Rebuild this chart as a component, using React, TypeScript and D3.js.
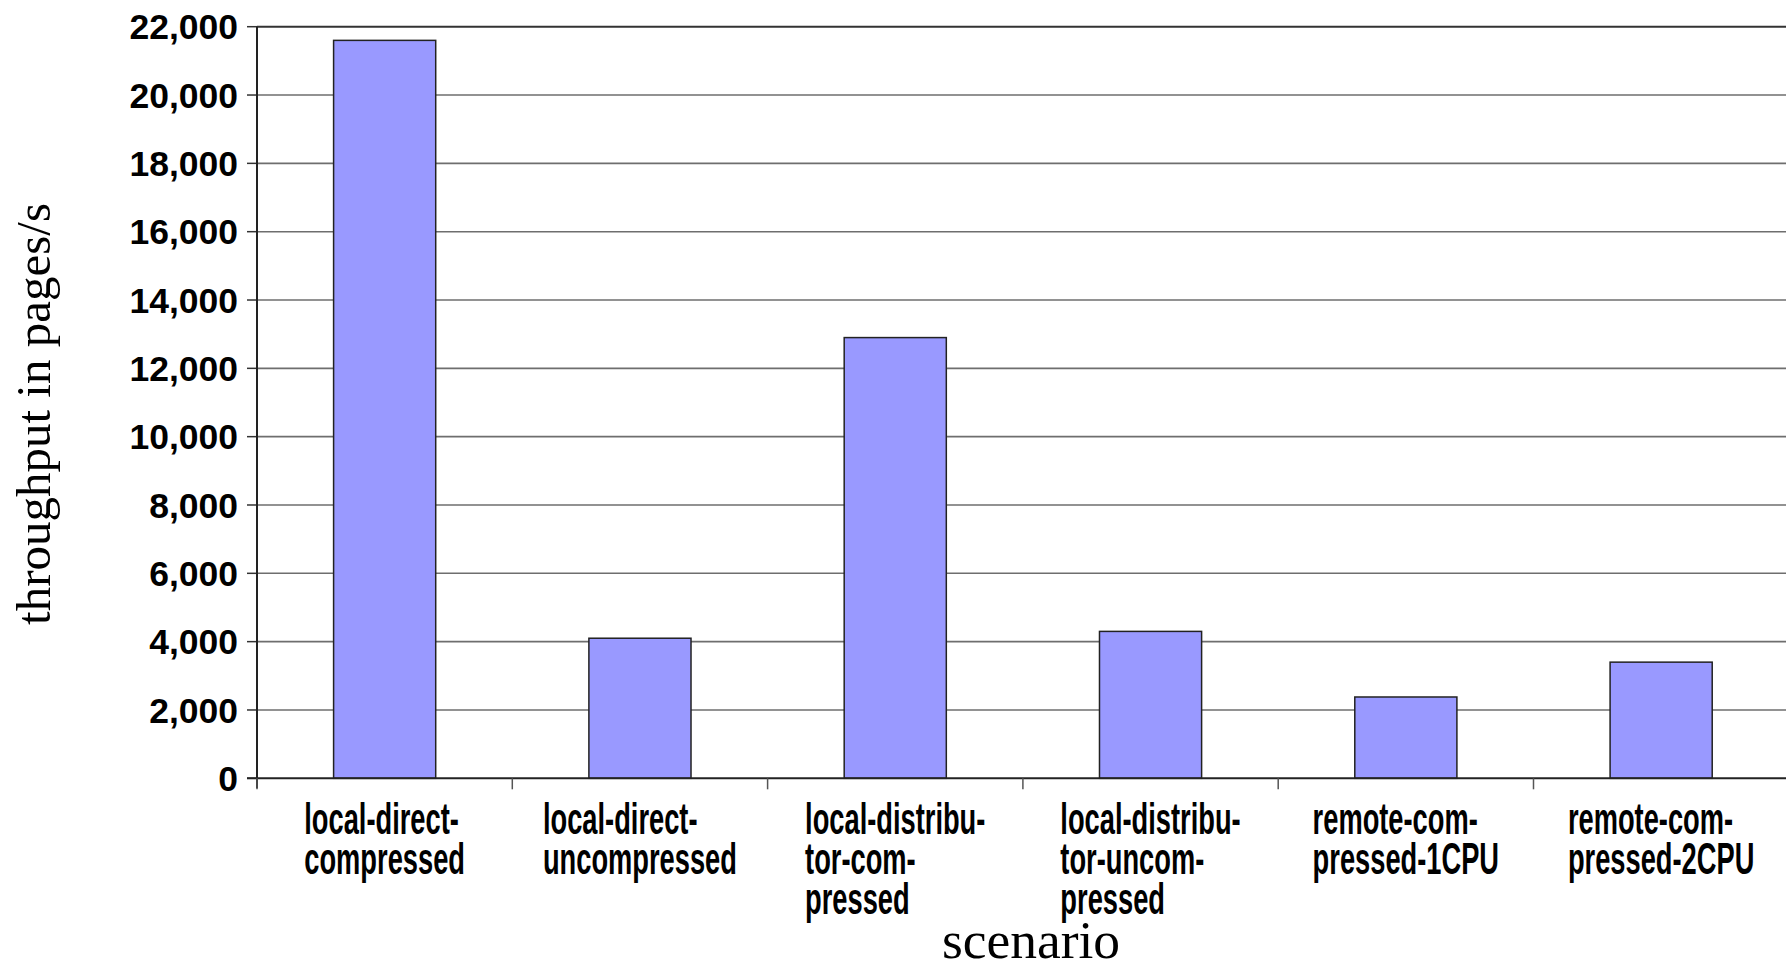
import React, { useEffect, useRef } from "react";
import * as d3 from "d3";

// Throughput per scenario (pages/s)
const categories = [
  "local-direct-compressed",
  "local-direct-uncompressed",
  "local-distributor-compressed",
  "local-distributor-uncompressed",
  "remote-compressed-1CPU",
  "remote-compressed-2CPU",
];
// Wrapped category label lines, as printed under each bar
const categoryLines = [
  ["local-direct-", "compressed"],
  ["local-direct-", "uncompressed"],
  ["local-distribu-", "tor-com-", "pressed"],
  ["local-distribu-", "tor-uncom-", "pressed"],
  ["remote-com-", "pressed-1CPU"],
  ["remote-com-", "pressed-2CPU"],
];
const throughput = [21600, 4100, 12900, 4300, 2380, 3400];
const yTicks = [0, 2000, 4000, 6000, 8000, 10000, 12000, 14000, 16000, 18000, 20000, 22000];
const yTitle = "throughput in pages/s";
const xTitle = "scenario";

const W = 1786;
const H = 968;

export default function App() {
  const ref = useRef<SVGSVGElement | null>(null);

  useEffect(() => {
    const svg = d3.select(ref.current);
    svg.selectAll("*").remove();

    const left = 257;
    const top = 26.7;
    const bottom = 778.3;
    const step = 255.3;
    const right = left + step * categories.length;

    const x = d3
      .scaleBand<string>()
      .domain(categories)
      .range([left, right])
      .paddingInner(0.6)
      .paddingOuter(0.3);
    const y = d3.scaleLinear().domain([0, 22000]).range([bottom, top]);
    const fmt = d3.format(",");

    // horizontal gridlines
    svg
      .append("g")
      .selectAll("line")
      .data(yTicks.filter((t) => t > 0))
      .join("line")
      .attr("x1", left)
      .attr("x2", right)
      .attr("y1", (d) => y(d))
      .attr("y2", (d) => y(d))
      .attr("stroke", (d) => (d === 22000 ? "#333" : "#6e6e6e"))
      .attr("stroke-width", (d) => (d === 22000 ? 2 : 1.6));

    // y tick marks and labels
    const yAxis = svg.append("g");
    yAxis
      .selectAll("line")
      .data(yTicks)
      .join("line")
      .attr("x1", left - 10)
      .attr("x2", left)
      .attr("y1", (d) => y(d))
      .attr("y2", (d) => y(d))
      .attr("stroke", "#333")
      .attr("stroke-width", 1.5);
    yAxis
      .selectAll("text")
      .data(yTicks)
      .join("text")
      .attr("x", left - 19)
      .attr("y", (d) => y(d))
      .attr("dy", "0.36em")
      .attr("text-anchor", "end")
      .attr("font-family", "'Liberation Sans', Arial, sans-serif")
      .attr("font-weight", "bold")
      .attr("font-size", 35.5)
      .attr("fill", "#000")
      .text((d) => fmt(d));

    // bars
    svg
      .append("g")
      .selectAll("rect")
      .data(categories)
      .join("rect")
      .attr("x", (d) => x(d)!)
      .attr("width", x.bandwidth())
      .attr("y", (_, i) => y(throughput[i]))
      .attr("height", (_, i) => bottom - y(throughput[i]))
      .attr("fill", "#9999ff")
      .attr("stroke", "#222")
      .attr("stroke-width", 1.5);

    // axis lines
    svg
      .append("line")
      .attr("x1", left)
      .attr("x2", left)
      .attr("y1", top)
      .attr("y2", bottom + 10)
      .attr("stroke", "#222")
      .attr("stroke-width", 2);
    svg
      .append("line")
      .attr("x1", left - 10)
      .attr("x2", right)
      .attr("y1", bottom)
      .attr("y2", bottom)
      .attr("stroke", "#222")
      .attr("stroke-width", 2);

    // x tick marks at category boundaries
    svg
      .append("g")
      .selectAll("line")
      .data(d3.range(categories.length + 1))
      .join("line")
      .attr("x1", (i) => left + i * x.step())
      .attr("x2", (i) => left + i * x.step())
      .attr("y1", bottom)
      .attr("y2", bottom + 11)
      .attr("stroke", "#555")
      .attr("stroke-width", 1.5);

    // category labels: condensed bold, lines left-aligned, block centred in its slot
    const sx = 0.62;
    const lineGap = 40;
    categories.forEach((c, i) => {
      const g = svg.append("g");
      const inner = g.append("g");
      categoryLines[i].forEach((ln, j) => {
        inner
          .append("text")
          .attr("x", 0)
          .attr("y", j * lineGap)
          .attr("font-family", "'Liberation Sans', Arial, sans-serif")
          .attr("font-weight", "bold")
          .attr("font-size", 44)
          .attr("fill", "#000")
          .text(ln);
      });
      const bb = (inner.node() as SVGGElement).getBBox();
      const cx = x(c)! + x.bandwidth() / 2;
      const w = bb.width * sx;
      g.attr("transform", `translate(${cx - w / 2},${834})`);
      inner.attr("transform", `scale(${sx},1)`);
    });

    // axis titles
    svg
      .append("text")
      .attr("transform", `translate(50,${414}) rotate(-90)`)
      .attr("text-anchor", "middle")
      .attr("font-family", "'Liberation Serif', 'Times New Roman', serif")
      .attr("font-size", 49)
      .attr("fill", "#000")
      .text(yTitle);
    svg
      .append("text")
      .attr("x", 1031)
      .attr("y", 958)
      .attr("text-anchor", "middle")
      .attr("font-family", "'Liberation Serif', 'Times New Roman', serif")
      .attr("font-size", 53.5)
      .attr("fill", "#000")
      .text(xTitle);
  }, []);

  return (
    <svg
      ref={ref}
      width={W}
      height={H}
      viewBox={`0 0 ${W} ${H}`}
      style={{ position: "absolute", left: 0, top: 0, display: "block", background: "#fff" }}
    />
  );
}
